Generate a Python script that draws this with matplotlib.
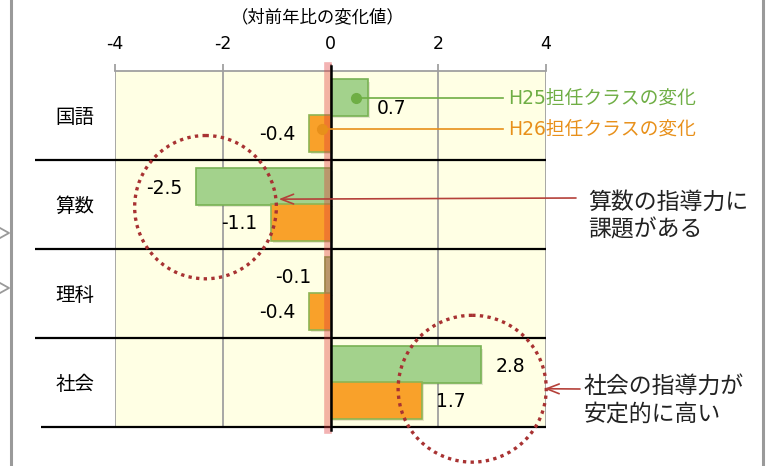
import matplotlib
matplotlib.use("Agg")
import matplotlib.pyplot as plt
import matplotlib.patheffects as pe
from matplotlib.lines import Line2D
from matplotlib.patches import Ellipse
import numpy as np

# Latin digits in DejaVu, Japanese falls back to Noto CJK
plt.rcParams["font.family"] = ["DejaVu Sans", "Noto Sans CJK JP"]
plt.rcParams["axes.unicode_minus"] = False

subjects = ["国語", "算数", "理科", "社会"]
h25_change = [0.7, -2.5, -0.1, 2.8]
h26_change = [-0.4, -1.1, -0.4, 1.7]
series_names = ["H25担任クラスの変化", "H26担任クラスの変化"]
x_ticks = [-4, -2, 0, 2, 4]
axis_title = "（対前年比の変化値）"
note_math = "算数の指導力に\n課題がある"
note_social = "社会の指導力が\n安定的に高い"

GREEN = "#A3D28C"
GREEN_EDGE = "#78B254"
ORANGE = "#F9A12A"
ORANGE_EDGE = "#8DB453"
NOTE_RED = "#A83232"

W, H = 771, 466


def fx(px):
    return px / W


def fy(py):
    return 1 - py / H


fig = plt.figure(figsize=(W / 100, H / 100), dpi=100)
fig.patch.set_facecolor("white")

ax = fig.add_axes([fx(115), fy(427), (546 - 115) / W, (427 - 71) / H])
ax.set_facecolor("#FFFFE4")
ax.set_xlim(-4, 4)
ax.set_ylim(3.5, -0.5)

y = np.arange(len(subjects))
shadow = [pe.SimplePatchShadow(offset=(1.5, -1.5), alpha=0.13), pe.Normal()]
b1 = ax.barh(y - 0.2, h25_change, height=0.41, color=GREEN,
             edgecolor=GREEN_EDGE, lw=1.2, zorder=3)
b2 = ax.barh(y + 0.2, h26_change, height=0.41, color=ORANGE,
             edgecolor=ORANGE_EDGE, lw=1.2, zorder=3)
for bar in list(b1) + list(b2):
    bar.set_path_effects(shadow)

# value labels at the bar ends
label_nudge = {(0, 0): (-4, -7)}
for s, (bars, vals) in enumerate(((b1, h25_change), (b2, h26_change))):
    for i, (bar, v) in enumerate(zip(bars, vals)):
        yc = bar.get_y() + bar.get_height() / 2
        dx, dy = label_nudge.get((s, i), (0, 0))
        ax.annotate(f"{v:.1f}", xy=(v, yc),
                    xytext=((10 if v > 0 else -10) + dx, -1 + dy),
                    textcoords="offset points",
                    ha="left" if v > 0 else "right", va="center",
                    fontsize=13.5, zorder=8)

# axes styling
for side in ["left", "right", "bottom"]:
    ax.spines[side].set_visible(False)
ax.spines["top"].set_color("#A0A0A0")
ax.spines["top"].set_linewidth(1.3)
ax.set_xticks(x_ticks)
ax.grid(axis="x", color="#A0A0A0", lw=1.3)
ax.set_axisbelow(True)
ax.xaxis.tick_top()
ax.tick_params(axis="x", length=5, width=1.3, color="#A0A0A0", pad=8,
               labelsize=12.5)
ax.set_yticks(y, subjects)
ax.tick_params(axis="y", length=0, pad=15, labelsize=14)

# category dividers
ax.hlines(y[:-1] + 0.5, -5.48, 4, color="black", lw=1.6, clip_on=False,
          zorder=4)
ax.hlines(y[-1] + 0.5, -5.37, 4, color="black", lw=1.6, clip_on=False,
          zorder=4)

# zero line with a red glow
ax.axvline(-0.05, ymin=-0.008, ymax=1.014, color="#E03838", alpha=0.38,
           lw=5.5, clip_on=False, zorder=5)
ax.axvline(0, ymin=-0.008, ymax=1.014, color="black", lw=1.8,
           clip_on=False, zorder=6)

# series callouts pointing into the 国語 bars
callouts = [(0.48, -0.2, "#6FAE45", series_names[0]),
            (-0.15, 0.15, "#E8901A", series_names[1])]
for x0, yc, col, name in callouts:
    ax.plot([x0, 3.21], [yc, yc], color=col, lw=1.2, clip_on=False, zorder=7)
    ax.plot(x0, yc, "o", color=col, ms=7, clip_on=False, zorder=7)
    ax.text(3.3, yc, name, color=col, fontsize=13.5, va="center",
            clip_on=False, zorder=8)

# dotted highlight circles
dots = dict(fill=False, ec=NOTE_RED, lw=2.4, ls=(0, (1, 1.3)),
            clip_on=False, zorder=7)
ax.add_patch(Ellipse((-2.32, 1.03), 2.63, 1.61, **dots))
ax.add_patch(Ellipse((2.63, 3.07), 2.75, 1.65, **dots))

# notes with arrows
arrow = dict(arrowstyle="->,head_length=0.9,head_width=0.35",
             color="#B5413A", lw=1.2, shrinkA=0, shrinkB=0)
ax.annotate("", xy=(-0.96, 0.94), xycoords="data",
            xytext=(576, H - 198), textcoords="figure pixels",
            arrowprops=arrow, zorder=8)
ax.annotate("", xy=(3.97, 3.07), xycoords="data",
            xytext=(580, H - 389), textcoords="figure pixels",
            arrowprops=arrow, zorder=8)
fig.text(fx(588), fy(191), note_math, va="top", ha="left", fontsize=16.5,
         linespacing=1.25, color="#222222")
fig.text(fx(584), fy(375), note_social, va="top", ha="left", fontsize=16.5,
         linespacing=1.25, color="#222222")

fig.text(fx(318), fy(17), axis_title, ha="center", va="center",
         fontsize=12.5)

# frame edges on both sides
for xp in (11, 763):
    fig.add_artist(Line2D([fx(xp), fx(xp)], [0, 1], color="#9A9A9A", lw=2.2))
for yp in (233, 288):
    fig.add_artist(Line2D([fx(0), fx(9), fx(0)], [fy(yp - 5), fy(yp), fy(yp + 5)],
                          color="#9A9A9A", lw=1.3))

fig.savefig("out.png", dpi=100)
